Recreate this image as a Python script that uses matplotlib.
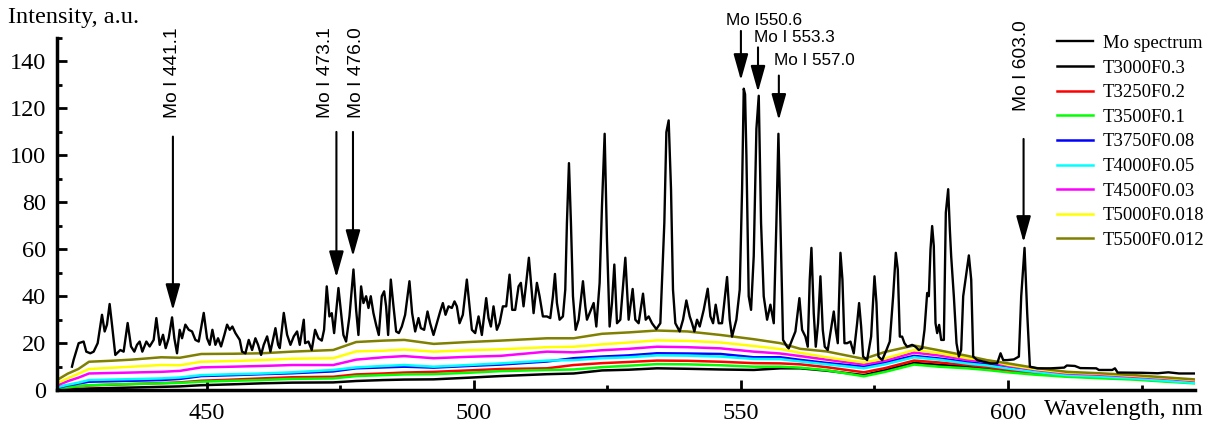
import matplotlib
matplotlib.use("Agg")
import matplotlib.pyplot as plt
from matplotlib.ticker import MultipleLocator

# measured Mo spectrum (wavelength nm, intensity a.u.)
spec_wl = [424.81, 425.12, 426.06, 426.99, 427.49, 428.24, 428.87, 429.62, 430.43, 430.93,
           431.36, 431.86, 432.30, 432.92, 433.86, 434.48, 435.23, 435.86, 436.48, 436.98,
           437.48, 437.98, 438.73, 439.35, 440.10, 440.60, 441.23, 441.85, 442.35, 442.91,
           443.54, 443.97, 444.47, 444.97, 445.41, 446.03, 446.66, 447.28, 447.91, 448.53,
           449.47, 450.09, 450.59, 451.09, 451.65, 452.15, 452.71, 453.34, 453.84, 454.34,
           454.83, 455.40, 456.21, 456.64, 457.27, 457.89, 458.52, 459.14, 459.64, 460.20,
           460.70, 461.33, 461.95, 462.89, 463.39, 463.70, 464.45, 465.07, 465.70, 466.32,
           466.94, 467.44, 468.19, 468.44, 469.06, 469.68, 470.31, 470.93, 471.56, 471.99,
           472.49, 472.99, 473.43, 473.87, 474.68, 475.12, 475.61, 476.11, 476.74, 477.49,
           477.99, 478.42, 478.92, 479.36, 479.86, 480.30, 480.73, 481.23, 481.73, 482.23,
           482.79, 483.23, 483.60, 483.98, 484.48, 484.98, 485.48, 485.98, 486.54, 487.16,
           487.97, 488.47, 489.04, 489.66, 490.10, 490.72, 491.35, 491.84, 492.47, 493.09,
           493.72, 494.22, 494.72, 495.28, 495.90, 496.40, 496.84, 497.34, 497.96, 498.71,
           499.21, 499.65, 500.27, 500.90, 501.52, 502.33, 502.77, 503.21, 503.70, 504.33,
           504.83, 505.45, 506.08, 506.70, 507.20, 507.76, 508.39, 508.82, 509.32, 509.82,
           510.32, 510.88, 511.20, 511.82, 512.32, 512.94, 513.69, 514.32, 514.82, 515.20,
           515.57, 516.07, 516.69, 517.13, 517.44, 517.82, 518.19, 518.57, 519.07, 519.63,
           520.44, 520.88, 521.19, 521.69, 522.44, 522.94, 523.56, 524.00, 524.50, 524.93,
           525.43, 525.87, 526.31, 526.81, 527.43, 528.37, 528.99, 529.74, 530.24, 530.86,
           531.68, 532.18, 532.74, 533.36, 534.17, 534.92, 535.67, 536.05, 536.48, 536.92,
           537.29, 537.73, 538.54, 539.17, 539.79, 540.42, 540.85, 541.29, 541.79, 542.29,
           543.04, 543.79, 544.29, 544.79, 545.28, 545.85, 546.47, 547.41, 547.91, 548.34,
           549.15, 549.78, 550.22, 550.53, 550.78, 551.03, 551.46, 551.90, 552.40, 552.90,
           553.34, 553.77, 554.27, 554.90, 555.52, 556.15, 556.64, 557.02, 557.39, 557.89,
           558.64, 558.95, 559.57, 560.20, 560.95, 561.45, 562.07, 562.51, 562.88, 563.20,
           563.63, 564.01, 564.44, 564.88, 565.32, 565.69, 566.25, 566.75, 567.38, 567.75,
           568.13, 568.63, 569.00, 569.38, 569.87, 570.50, 571.12, 571.75, 572.12, 572.50,
           572.87, 573.62, 574.37, 575.00, 575.37, 575.74, 576.43, 577.24, 577.86, 578.49,
           578.99, 579.36, 579.74, 580.17, 580.61, 581.11, 582.05, 582.67, 583.30, 583.92,
           584.36, 584.86, 585.17, 585.48, 585.79, 586.10, 586.42, 586.73, 587.10, 587.48,
           587.98, 588.35, 588.79, 589.10, 589.35, 589.85, 590.35, 590.79, 591.22, 591.60,
           592.66, 593.10, 593.47, 594.22, 595.47, 596.72, 597.96, 598.59, 599.09, 599.84,
           601.09, 602.02, 602.46, 603.08, 603.58, 604.08, 605.5, 608.0, 610.5, 611.0,
           612.5, 613.5, 616.5, 617.0, 619.5, 620.0, 620.5, 625.0, 628.0, 630.0,
           632.0, 634.8]
spec_int = [10.0, 12.9, 20.0, 20.7, 16.4, 15.7, 16.4, 20.0, 32.1, 25.0,
            27.9, 36.7, 27.9, 15.0, 17.1, 16.4, 28.6, 18.6, 16.4, 19.3,
            20.7, 16.4, 20.7, 18.6, 21.4, 30.7, 19.3, 23.6, 17.9, 22.1,
            31.0, 22.1, 15.7, 25.7, 22.1, 27.9, 25.7, 25.0, 21.4, 20.7,
            32.9, 22.1, 19.3, 25.7, 19.3, 22.1, 18.6, 23.6, 27.9, 25.7,
            27.1, 24.3, 21.4, 16.4, 15.7, 21.4, 17.1, 22.1, 19.3, 15.0,
            19.3, 22.9, 16.4, 26.4, 19.3, 17.9, 32.9, 23.6, 19.3, 22.9,
            25.0, 19.3, 30.0, 20.0, 20.7, 17.1, 25.7, 22.1, 21.1, 25.7,
            44.2, 31.4, 32.8, 24.3, 43.5, 34.2, 23.5, 20.7, 31.4, 51.4,
            34.2, 23.5, 44.2, 37.1, 40.0, 35.0, 40.0, 32.8, 27.8, 23.5,
            40.0, 42.1, 35.7, 23.5, 47.1, 35.7, 25.0, 24.3, 27.1, 32.1,
            46.4, 32.8, 25.0, 30.7, 26.4, 25.7, 33.5, 28.5, 23.5, 28.5,
            33.5, 37.1, 32.1, 35.7, 35.0, 37.8, 35.7, 28.5, 32.1, 47.1,
            35.7, 25.7, 24.3, 31.4, 23.5, 39.2, 30.7, 27.1, 35.7, 25.7,
            28.5, 35.7, 35.7, 49.2, 34.2, 34.2, 44.2, 45.7, 35.7, 45.7,
            56.4, 41.4, 32.8, 45.7, 40.0, 31.4, 31.4, 30.7, 40.0, 49.5,
            37.1, 30.0, 31.4, 42.8, 71.3, 96.7, 71.3, 40.0, 25.7, 30.0,
            46.4, 35.7, 30.0, 32.8, 37.1, 27.1, 45.7, 78.5, 109.2, 64.2,
            27.1, 37.1, 53.5, 28.5, 30.0, 56.4, 30.0, 43.1, 30.0, 28.5,
            41.1, 30.0, 31.4, 28.5, 26.0, 28.5, 71.3, 109.9, 114.9, 85.6,
            42.8, 28.5, 25.0, 30.0, 38.2, 31.4, 28.5, 25.0, 30.0, 27.1,
            34.2, 43.2, 31.4, 28.5, 36.4, 28.5, 28.5, 48.2, 30.0, 22.8,
            30.0, 42.8, 85.6, 128.4, 126.0, 99.9, 40.0, 34.2, 57.1, 111.3,
            125.4, 71.3, 40.0, 30.0, 36.4, 28.5, 71.3, 109.2, 71.3, 21.4,
            18.5, 17.8, 21.4, 25.0, 39.2, 25.7, 22.8, 18.5, 47.1, 60.6,
            32.8, 18.5, 28.5, 48.5, 25.7, 18.5, 17.1, 24.3, 33.5, 25.7,
            20.0, 58.5, 47.1, 20.0, 20.0, 20.7, 15.7, 28.5, 37.1, 27.1,
            14.3, 12.8, 22.8, 48.5, 37.1, 14.3, 12.8, 17.1, 20.7, 40.0,
            58.5, 51.4, 22.8, 22.8, 20.0, 18.5, 19.3, 18.5, 17.1, 17.8,
            25.7, 41.4, 40.0, 59.9, 69.9, 61.4, 28.5, 24.3, 27.8, 21.4,
            21.4, 75.6, 85.6, 68.5, 57.1, 40.0, 20.0, 14.3, 17.1, 40.0,
            57.4, 47.1, 14.3, 12.8, 12.1, 11.4, 11.4, 15.7, 12.8, 12.8,
            13.1, 14.3, 40.0, 60.6, 32.8, 10.0, 9.3, 9.3, 9.6, 10.5,
            10.3, 9.4, 9.3, 8.6, 8.6, 9.3, 7.5, 7.4, 7.2, 7.6,
            7.1, 7.1]

# model spectra
model_wl = [422, 424, 426, 428, 432, 436, 441.5, 445, 449, 455, 460.3, 466, 473.7, 478,
            483.1, 487, 492.5, 499, 505, 513.7, 518.7, 524, 529, 534.3, 540, 546.2, 552.4,
            557.4, 561.1, 566, 573, 577, 582.4, 587, 592.4, 596, 600, 605, 611, 617, 623.6,
            629, 634.8]
t3000 = [0.2, 0.3, 0.5, 0.7, 0.9, 1.1, 1.4, 1.6, 2.1, 2.5, 2.9, 3.2, 3.3, 3.9, 4.3, 4.5, 4.6,
         5.3, 6.0, 6.8, 7.1, 8.4, 8.7, 9.3, 9.1, 8.8, 8.6, 9.3, 9.3, 8.3, 6.4, 8.5, 11.6,
         10.8, 10.0, 9.2, 8.2, 7.1, 6.0, 5.4, 4.8, 4.0, 3.5]
t3250 = [0.4, 1.0, 1.6, 2.0, 2.3, 2.6, 3.0, 3.3, 4.0, 4.5, 5.0, 5.5, 5.7, 6.7, 7.1, 7.5, 7.8,
         8.4, 9.0, 9.3, 10.7, 11.5, 12.0, 12.6, 12.5, 12.1, 11.5, 11.4, 11.0, 9.8, 7.6, 9.4,
         12.6, 11.8, 10.7, 9.8, 8.6, 7.4, 6.3, 5.7, 4.9, 4.0, 3.3]
t3500 = [0.6, 1.2, 1.7, 2.1, 2.4, 2.6, 2.9, 3.1, 3.6, 4.0, 4.3, 4.8, 5.0, 6.0, 6.4, 6.7, 6.8,
         7.4, 8.1, 8.6, 8.8, 9.8, 10.4, 11.1, 11.0, 10.6, 10.0, 10.0, 9.6, 8.5, 5.9, 7.8,
         10.9, 10.0, 9.3, 8.6, 7.6, 6.6, 5.7, 5.1, 4.5, 3.7, 2.9]
t3750 = [1.0, 2.0, 2.8, 3.6, 3.8, 4.0, 4.3, 4.8, 6.0, 6.4, 6.8, 7.2, 8.0, 9.3, 9.7, 10.0, 9.6,
         10.3, 10.9, 12.2, 13.6, 14.3, 14.8, 15.7, 15.6, 15.4, 14.0, 14.0, 12.9, 11.6, 10.0,
         11.8, 14.6, 13.5, 12.0, 11.0, 9.6, 8.1, 6.8, 6.1, 5.3, 4.4, 3.6]
t4000 = [1.2, 2.3, 3.2, 4.3, 4.5, 4.7, 5.0, 5.4, 6.4, 6.8, 7.1, 7.6, 8.6, 9.7, 10.3, 10.7,
         10.0, 10.7, 11.4, 12.6, 12.8, 13.6, 14.0, 14.8, 14.7, 14.3, 13.3, 13.2, 12.2, 11.0,
         9.3, 11.0, 14.0, 13.0, 11.3, 10.5, 9.2, 7.8, 6.4, 5.8, 5.0, 4.1, 3.1]
t4500 = [2.0, 3.8, 5.3, 7.1, 7.3, 7.5, 7.8, 8.2, 9.7, 10.0, 10.3, 10.7, 10.7, 13.0, 14.0,
         14.5, 13.6, 14.2, 14.6, 16.4, 16.1, 17.0, 17.6, 18.5, 18.3, 17.8, 16.4, 15.6, 14.5,
         13.0, 10.9, 12.5, 16.0, 14.8, 12.8, 12.1, 10.3, 8.7, 7.1, 6.6, 5.7, 5.0, 4.0]
t5000 = [2.9, 5.0, 7.0, 9.0, 9.5, 10.0, 10.7, 10.6, 12.1, 12.4, 12.8, 13.4, 13.6, 16.5, 16.8,
         17.3, 16.4, 17.0, 17.4, 18.3, 18.5, 19.5, 20.3, 21.2, 21.0, 20.3, 18.8, 17.5, 15.9,
         14.0, 11.8, 13.5, 17.1, 15.8, 13.6, 12.8, 10.8, 9.0, 7.5, 7.0, 6.1, 5.3, 4.3]
t5500 = [4.3, 7.0, 9.0, 12.1, 12.5, 13.0, 14.0, 13.8, 15.4, 15.5, 15.7, 16.4, 17.1, 20.5,
         21.1, 21.4, 19.7, 20.5, 21.1, 22.1, 22.1, 24.0, 24.6, 25.4, 25.0, 23.5, 21.7, 20.0,
         17.6, 16.5, 13.3, 16.3, 19.0, 17.0, 14.6, 12.8, 11.4, 9.5, 7.8, 7.2, 6.4, 5.5, 4.6]

model_names = ["T3000F0.3", "T3250F0.2", "T3500F0.1", "T3750F0.08", "T4000F0.05",
               "T4500F0.03", "T5000F0.018", "T5500F0.012"]
model_colors = ["#000000", "#ff0000", "#00ff00", "#0000ff", "#00ffff", "#ff00ff",
                "#ffff00", "#808000"]
models = [t3000, t3250, t3500, t3750, t4000, t4500, t5000, t5500]

# line labels: text, arrow x, arrow top, arrow tip, text x, text y, rotation
labels = [("Mo I 441.1", 443.7, 108, 34, 443.7, 116, 90),
          ("Mo I 473.1", 474.3, 110, 48, 472.3, 116, 90),
          ("Mo I 476.0", 477.4, 110, 57, 478.0, 116, 90),
          ("Mo I550.6", 550.0, 153, 132, 554.3, 157.5, 0),
          ("Mo I 553.3", 553.2, 146, 127, 560.0, 150, 0),
          ("Mo I 557.0", 557.1, 134, 115, 563.7, 140.5, 0),
          ("Mo I 603.0", 602.9, 107, 63, 602.6, 119, 90)]

plt.rcParams['font.family'] = ['Liberation Serif']
fig = plt.figure(figsize=(12.17, 4.25), dpi=100)
ax = fig.add_axes([0.0468, 0.082, 0.9352, 0.8286])

for y, name, c in zip(models, model_names, model_colors):
    ax.plot(model_wl, y, color=c, lw=1.8, label=name, zorder=2)
h_spec, = ax.plot(spec_wl, spec_int, color='black', lw=1.7, label='Mo spectrum', zorder=3)

for text, ax_x, top, tip, tx, ty, rot in labels:
    ax.annotate('', xy=(ax_x, tip), xytext=(ax_x, top), annotation_clip=False,
                arrowprops=dict(arrowstyle='-|>,head_length=1.0,head_width=0.28',
                                color='black', lw=1.5, mutation_scale=16, shrinkA=0, shrinkB=0))
    if rot == 90:
        ax.text(tx, ty, text, rotation=90, ha='center', va='bottom', fontsize=13.8,
                family='Liberation Sans', clip_on=False)
    else:
        ax.text(tx, ty, text, ha='center', va='center', fontsize=12.3,
                family='Liberation Sans', clip_on=False)

ax.set_xlim(422, 635)
ax.set_ylim(0, 150)
ax.xaxis.set_major_locator(MultipleLocator(50))
ax.xaxis.set_minor_locator(MultipleLocator(25))
ax.yaxis.set_major_locator(MultipleLocator(20))
ax.yaxis.set_minor_locator(MultipleLocator(10))
ax.set_yticks(range(0, 141, 20))
for s in ['top', 'right']:
    ax.spines[s].set_visible(False)
for s in ['left', 'bottom']:
    ax.spines[s].set_linewidth(2.5)
ax.tick_params(which='major', direction='in', length=7, width=2, labelsize=17.5)
ax.tick_params(which='minor', direction='in', length=3.5, width=2)
ax.tick_params(axis='y', which='major', pad=8)
ax.tick_params(axis='x', which='major', pad=9)

handles, names = ax.get_legend_handles_labels()
handles = [h_spec] + handles[:-1]
names = ['Mo spectrum'] + names[:-1]
fig.legend(handles, names, loc='upper left', bbox_to_anchor=(0.8685, 0.918),
           frameon=False, fontsize=13.5, handlelength=1.9, handletextpad=0.55,
           labelspacing=0.4, borderpad=0, borderaxespad=0)

fig.text(8 / 1217, 1 - 18 / 425, 'Intensity, a.u.', fontsize=17.5, va='center', ha='left')
fig.text(1203 / 1217, 1 - 410 / 425, 'Wavelength, nm', fontsize=17.5, va='center', ha='right')

fig.savefig('out.png', dpi=100)
